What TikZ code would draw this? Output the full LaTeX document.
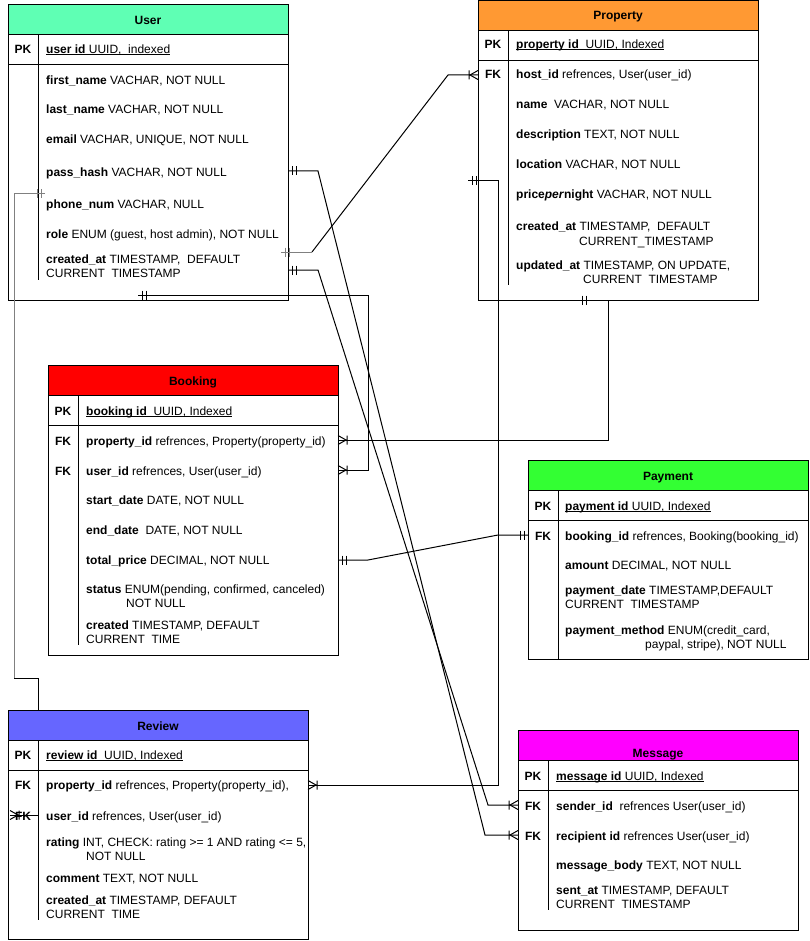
\documentclass[tikz,border=0pt]{standalone}
\usepackage{fontspec}
\setmainfont{Liberation Sans}
\usetikzlibrary{calc}

\definecolor{userhd}{RGB}{95,255,180}
\definecolor{prophd}{RGB}{255,153,51}
\definecolor{bookhd}{RGB}{255,0,0}
\definecolor{payhd}{RGB}{51,255,51}
\definecolor{revhd}{RGB}{102,102,255}
\definecolor{msghd}{RGB}{255,0,255}
\definecolor{edgegray}{RGB}{128,128,128}

\newcommand\erfont{\fontsize{12}{14}\selectfont}
% underlined primary-key text, rule close to the baseline
\newcommand\keyline[1]{\setbox0=\hbox{#1}\rlap{\rule[-1.5pt]{\wd0}{1pt}}\box0}

\tikzset{
  tbl/.style={draw=black, line width=1pt, fill=white, anchor=north west, inner sep=0pt, outer sep=0pt},
  hdr/.style={draw=black, line width=1pt, anchor=north west, inner sep=0pt, outer sep=0pt},
  title/.style={anchor=base, inner sep=0pt, font=\erfont\bfseries},
  attr/.style={anchor=base west, inner sep=0pt, font=\erfont},
  key/.style={anchor=base, inner sep=0pt, font=\erfont\bfseries},
  rule/.style={line width=1pt, black},
  conn/.style={line width=1pt, black},
}

% entity table: name, x, y, width, height, header colour, end of key column rule
\newcommand\ertable[7]{%
  \node[tbl, minimum width=#4pt, minimum height=#5pt] (#1) at (#2,#3) {};
  \node[hdr, fill=#6, minimum width=#4pt, minimum height=30pt] (#1-head) at (#2,#3) {};
  \draw[rule] (#2,#3+60) -- (#2+#4,#3+60);
  \draw[rule] (#2+30,#3+30) -- (#2+30,#7);
}
% mandatory-one mark: two bars next to an end point, dir = side the line leaves to
\newcommand\markone[3][black]{%
  \draw[conn,#1] ($(#2)+({4*#3},-4.5)$) -- ++(0,9) ($(#2)+({8*#3},-4.5)$) -- ++(0,9);}
% one-to-many mark: crow's foot plus bar at an end point
\newcommand\markmany[2]{%
  \draw[conn] ($(#1)+(0,-4.5)$) -- ($(#1)+({8*#2},0)$) -- ($(#1)+(0,4.5)$)
    ($(#1)+({9*#2},-4.5)$) -- ++(0,9);}

\begin{document}
\begin{tikzpicture}[x=1pt,y=-1pt]
\useasboundingbox (0,0) rectangle (809,941);
\fill[white] (0,0) rectangle (809,941);

% ---------------- User ----------------
\ertable{user}{8}{5}{280}{295}{userhd}{280}
\node[title] (user-title) at (148,24.5) {User};
\node[key] (u-pk) at (23,54) {PK};
\node[attr] (u-id) at (46,54) {\keyline{\textbf{user id} UUID,\ \ indexed}};
\node[attr] (u-first) at (46,84.5) {\textbf{first\_name} VACHAR, NOT NULL};
\node[attr] (u-last) at (46,114) {\textbf{last\_name} VACHAR, NOT NULL};
\node[attr] (u-email) at (46,144) {\textbf{email} VACHAR, UNIQUE, NOT NULL};
\node[attr] (u-pass) at (46,177) {\textbf{pass\_hash} VACHAR, NOT NULL};
\node[attr] (u-phone) at (46,208) {\textbf{phone\_num} VACHAR, NULL};
\node[attr] (u-role) at (46,238.5) {\textbf{role} ENUM (guest, host admin), NOT NULL};
\node[attr] (u-created) at (46,263) {\textbf{created\_at} TIMESTAMP,\ \ DEFAULT};
\node[attr] (u-created2) at (46,277) {CURRENT\ \ TIMESTAMP};

% ---------------- Property ----------------
\ertable{property}{478}{0.5}{280}{299.5}{prophd}{285}
\node[title] (property-title) at (618,19.5) {Property};
\node[key] (p-pk) at (493,49) {PK};
\node[attr] (p-id) at (516,49) {\keyline{\textbf{property id}\ \ UUID, Indexed}};
\node[key] (p-fk) at (493,79) {FK};
\node[attr] (p-host) at (516,79) {\textbf{host\_id} refrences, User(user\_id)};
\node[attr] (p-name) at (516,109) {\textbf{name}\ \ VACHAR, NOT NULL};
\node[attr] (p-desc) at (516,139) {\textbf{description} TEXT, NOT NULL};
\node[attr] (p-loc) at (516,169) {\textbf{location} VACHAR, NOT NULL};
\node[attr] (p-price) at (516,199) {\textbf{price\textit{per}night} VACHAR, NOT NULL};
\node[attr] (p-created) at (516,230) {\textbf{created\_at} TIMESTAMP,\ \ DEFAULT};
\node[attr] (p-created2) at (579,245) {CURRENT\_TIMESTAMP};
\node[attr] (p-updated) at (516,269) {\textbf{updated\_at} TIMESTAMP, ON UPDATE,};
\node[attr] (p-updated2) at (583,283) {CURRENT\ \ TIMESTAMP};

% ---------------- Booking ----------------
\ertable{booking}{48}{365}{290}{290}{bookhd}{645}
\node[title] (booking-title) at (193,385) {Booking};
\node[key] (b-pk) at (63,415) {PK};
\node[attr] (b-id) at (86,415) {\keyline{\textbf{booking id}\ \ UUID, Indexed}};
\node[key] (b-fk1) at (63,445) {FK};
\node[attr] (b-prop) at (86,445) {\textbf{property\_id} refrences, Property(property\_id)};
\node[key] (b-fk2) at (63,475) {FK};
\node[attr] (b-user) at (86,475) {\textbf{user\_id} refrences, User(user\_id)};
\node[attr] (b-start) at (86,504.5) {\textbf{start\_date} DATE, NOT NULL};
\node[attr] (b-end) at (86,534) {\textbf{end\_date}\ \ DATE, NOT NULL};
\node[attr] (b-total) at (86,564) {\textbf{total\_price} DECIMAL, NOT NULL};
\node[attr] (b-status) at (86,593) {\textbf{status} ENUM(pending, confirmed, canceled)};
\node[attr] (b-status2) at (126,607) {NOT NULL};
\node[attr] (b-created) at (86,629) {\textbf{created} TIMESTAMP, DEFAULT};
\node[attr] (b-created2) at (86,643) {CURRENT\ \ TIME};

% ---------------- Payment ----------------
\ertable{payment}{528}{460}{280}{199}{payhd}{659}
\node[title] (payment-title) at (668,480) {Payment};
\node[key] (pay-pk) at (543,510) {PK};
\node[attr] (pay-id) at (565,510) {\keyline{\textbf{payment id} UUID, Indexed}};
\node[key] (pay-fk) at (543,540) {FK};
\node[attr] (pay-book) at (565,540) {\textbf{booking\_id} refrences, Booking(booking\_id)};
\node[attr] (pay-amount) at (565,569.5) {\textbf{amount} DECIMAL, NOT NULL};
\node[attr] (pay-date) at (565,594.5) {\textbf{payment\_date} TIMESTAMP,DEFAULT};
\node[attr] (pay-date2) at (565,608) {CURRENT\ \ TIMESTAMP};
\node[attr] (pay-method) at (565,634.5) {\textbf{payment\_method} ENUM(credit\_card,};
\node[attr] (pay-method2) at (645,648) {paypal, stripe), NOT NULL};

% ---------------- Review ----------------
\ertable{review}{8}{710}{300}{229}{revhd}{920}
\node[title] (review-title) at (158,730) {Review};
\node[key] (r-pk) at (23,759.5) {PK};
\node[attr] (r-id) at (46,759.5) {\keyline{\textbf{review id}\ \ UUID, Indexed}};
\node[key] (r-fk1) at (23,789) {FK};
\node[attr] (r-prop) at (46,789) {\textbf{property\_id} refrences, Property(property\_id),};
\node[key] (r-fk2) at (23,820) {FK};
\node[attr] (r-user) at (46,820) {\textbf{user\_id} refrences, User(user\_id)};
\node[attr] (r-rating) at (46,846.5) {\textbf{rating} INT, CHECK: rating >= 1 AND rating <= 5,};
\node[attr] (r-rating2) at (86,860) {NOT NULL};
\node[attr] (r-comment) at (46,882) {\textbf{comment} TEXT, NOT NULL};
\node[attr] (r-created) at (46,904) {\textbf{created\_at} TIMESTAMP, DEFAULT};
\node[attr] (r-created2) at (46,918) {CURRENT\ \ TIME};

% ---------------- Message ----------------
\ertable{message}{518}{730}{280}{200}{msghd}{910}
\node[title] (message-title) at (658,757) {Message};
\node[key] (m-pk) at (533,780) {PK};
\node[attr] (m-id) at (556,780) {\keyline{\textbf{message id} UUID, Indexed}};
\node[key] (m-fk1) at (533,810) {FK};
\node[attr] (m-sender) at (556,810) {\textbf{sender\_id}\ \ refrences User(user\_id)};
\node[key] (m-fk2) at (533,840) {FK};
\node[attr] (m-recip) at (556,840) {\textbf{recipient id} refrences User(user\_id)};
\node[attr] (m-body) at (556,869.5) {\textbf{message\_body} TEXT, NOT NULL};
\node[attr] (m-sent) at (556,894) {\textbf{sent\_at} TIMESTAMP, DEFAULT};
\node[attr] (m-sent2) at (556,908) {CURRENT\ \ TIMESTAMP};

% ---------------- relationship end points ----------------
\coordinate (uPass) at (288,171);
\coordinate (uCreatedA) at (281,252);
\coordinate (uCreatedB) at (288,270);
\coordinate (uBottom) at (138,295);
\coordinate (uPhone) at (45,194);
\coordinate (pHost) at (478,75);
\coordinate (pBottom) at (578,300);
\coordinate (pLeft) at (468,181);
\coordinate (bProp) at (338,440);
\coordinate (bUser) at (338,470);
\coordinate (bTotal) at (338,560);
\coordinate (payBook) at (528,535);
\coordinate (rProp) at (308,785);
\coordinate (rUser) at (10,815);
\coordinate (mSender) at (518,805);
\coordinate (mRecip) at (518,835);

% ---------------- relationships ----------------
% User -> Message (recipient)
\draw[conn] (uPass) -- (318,171) -- (485,835) -- (mRecip);
\markone{uPass}{1}
\markmany{mRecip}{-1}
% User -> Message (sender)
\draw[conn] (uCreatedB) -- (318,270) -- (488,805) -- (mSender);
\markone{uCreatedB}{1}
\markmany{mSender}{-1}
% User -> Property (host)
\draw[conn] (312,252) -- (448,75) -- (pHost);
\draw[conn,edgegray] (uCreatedA) -- (312,252);
\markone[edgegray]{uCreatedA}{1}
\markmany{pHost}{-1}
% Property -> Booking
\draw[conn] (pBottom) -- (608,300) -- (608,440) -- (bProp);
\markone{pBottom}{1}
\markmany{bProp}{1}
% User -> Booking
\draw[conn] (uBottom) -- (368,295) -- (368,470) -- (bUser);
\markone{uBottom}{1}
\markmany{bUser}{1}
% Booking -> Payment
\draw[conn] (bTotal) -- (368,560) -- (498,535) -- (payBook);
\markone{bTotal}{1}
\markone{payBook}{-1}
% Property -> Review
\draw[conn] (pLeft) -- (498,181) -- (498,785) -- (rProp);
\markone{pLeft}{1}
\markmany{rProp}{1}
% User -> Review (runs under the Review header)
\draw[conn,edgegray] (uPhone) -- (14,194) -- (14,678);
\draw[conn] (14,678) -- (38,678) -- (38,710) (38,740) -- (38,815) -- (rUser);
\markone[edgegray]{uPhone}{-1}
\markmany{rUser}{1}
\end{tikzpicture}
\end{document}
